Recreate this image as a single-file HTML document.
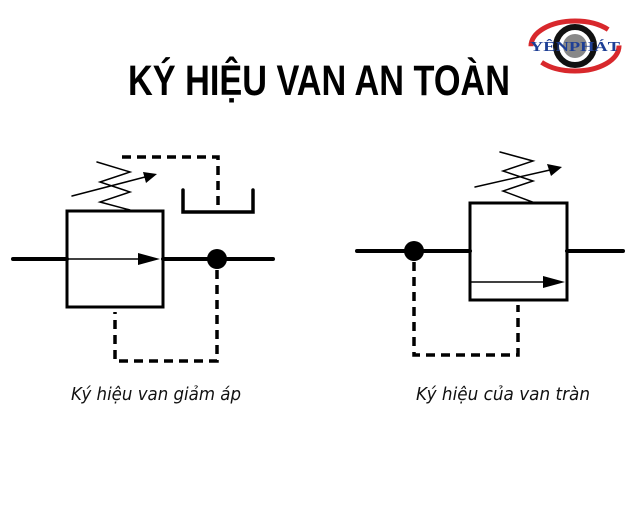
<!DOCTYPE html>
<html><head><meta charset="utf-8"><style>
html,body{margin:0;padding:0;background:#fff;}
</style></head><body>
<svg width="640" height="500" viewBox="0 0 640 500" xmlns="http://www.w3.org/2000/svg">
<rect width="640" height="500" fill="#fff"/>
<!-- logo -->
<ellipse cx="575" cy="46" rx="44" ry="25" fill="none" stroke="#d8282c" stroke-width="5" stroke-dasharray="90 20"/>
<circle cx="575" cy="46" r="19" fill="none" stroke="#111" stroke-width="6"/>
<circle cx="575" cy="46" r="12" fill="#888"/>
<text x="575" y="51" text-anchor="middle" font-family="Liberation Serif" font-weight="bold" font-size="14" fill="#1e3f95" textLength="90" lengthAdjust="spacingAndGlyphs">YÊNPHÁT</text>
<!-- title -->
<text x="128" y="95" font-family="Liberation Sans" font-weight="bold" font-size="43" fill="#000" textLength="382" lengthAdjust="spacingAndGlyphs">KÝ HIỆU VAN AN TOÀN</text>

<g fill="none" stroke="#000" stroke-linecap="round">
<line x1="13" y1="259" x2="67" y2="259" stroke-width="4"/>
<line x1="163" y1="259" x2="273" y2="259" stroke-width="4"/>
<rect x="67" y="211" width="96" height="96" stroke-width="3"/>
<line x1="67" y1="259" x2="140" y2="259" stroke-width="1.5"/>
<polyline points="97,162 130,172 100,182 130,192 100,202 130,210" stroke-width="1.5"/>
<line x1="72" y1="196" x2="145" y2="177" stroke-width="1.5"/>
<path d="M122,157 H218 V213" stroke-width="3.5" stroke-dasharray="9 6" stroke-linecap="butt"/>
<polyline points="183,190 183,212 253,212 253,190" stroke-width="3.5"/>
<path d="M217,270 V361 H115 V312" stroke-width="3.5" stroke-dasharray="9 6" stroke-linecap="butt"/>
<line x1="357" y1="251" x2="470" y2="251" stroke-width="4"/>
<line x1="567" y1="251" x2="623" y2="251" stroke-width="4"/>
<rect x="470" y="203" width="97" height="97" stroke-width="3"/>
<line x1="470" y1="282" x2="545" y2="282" stroke-width="1.5"/>
<polyline points="500,152 533,161 503,171 533,181 503,191 535,203" stroke-width="1.5"/>
<line x1="475" y1="187" x2="550" y2="170" stroke-width="1.5"/>
<path d="M414,262 V355 H518 V305" stroke-width="3.5" stroke-dasharray="9 6" stroke-linecap="butt"/>
</g>
<g fill="#000">
<polygon points="138,253 160,259 138,265"/>
<polygon points="143,172 157,174 146,183"/>
<circle cx="217" cy="259" r="10"/>
<polygon points="543,276 565,282 543,288"/>
<polygon points="547,164 562,167 551,176"/>
<circle cx="414" cy="251" r="10"/>
</g>
<text x="71" y="400" font-family="DejaVu Sans" font-style="italic" font-size="18" fill="#111" textLength="170" lengthAdjust="spacingAndGlyphs">Ký hiệu van giảm áp</text>
<text x="416" y="400" font-family="DejaVu Sans" font-style="italic" font-size="18" fill="#111" textLength="174" lengthAdjust="spacingAndGlyphs">Ký hiệu của van tràn</text>
</svg>
</body></html>
